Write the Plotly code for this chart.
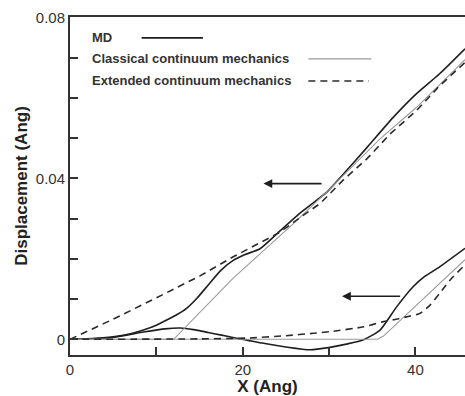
import plotly.graph_objects as go

# ---- data (X in Angstrom, displacement in Angstrom) ----
md_up_x = [0, 3, 5, 7, 8.5, 10, 11.2, 12.5, 13.5, 14.7, 16.2, 17.5, 18.9, 20.2, 22, 24, 26.6, 29.7, 31.3, 34.4, 37.4, 40.1, 42.8, 45.74]
md_up_y = [0, 0.0002, 0.0006, 0.0014, 0.0023, 0.0035, 0.0048, 0.0063, 0.0077, 0.0102, 0.0140, 0.0172, 0.0196, 0.0210, 0.0225, 0.0263, 0.0313, 0.0365, 0.0402, 0.0477, 0.0551, 0.0610, 0.0660, 0.0722]

cl_up_x = [0, 12, 18.9, 22.8, 25.9, 30, 35.9, 40.1, 45.74]
cl_up_y = [0, 0, 0.0152, 0.0229, 0.0288, 0.0372, 0.0498, 0.0576, 0.0695]

ex_up_x = [0, 5, 10, 15, 18.9, 22, 24.3, 27, 29, 31.6, 34.4, 37.1, 40.1, 42.8, 45.74]
ex_up_y = [0, 0.0050, 0.0103, 0.0157, 0.0205, 0.0241, 0.0266, 0.0308, 0.0338, 0.0395, 0.0449, 0.0511, 0.0568, 0.0630, 0.0688]

md_lo_x = [0, 5, 8.5, 11, 12.8, 14.3, 16, 17.4, 19, 20.5, 22.4, 25, 27.8, 30.1, 32, 34, 35.9, 37.8, 39.7, 41, 42.8, 45.74]
md_lo_y = [0, 0.0005, 0.0018, 0.0026, 0.0028, 0.0024, 0.0017, 0.0011, 0.0004, -0.0002, -0.0010, -0.0019, -0.0026, -0.0020, -0.0012, -0.0001, 0.0023, 0.0080, 0.0130, 0.0155, 0.0180, 0.0226]

cl_lo_x = [0, 35.6, 36.3, 45.74]
cl_lo_y = [0, 0, 0.0008, 0.0198]

ex_lo_x = [0, 15, 20.5, 25, 28.2, 30.1, 34.0, 36.3, 37.8, 39.4, 40.5, 41.7, 42.8, 44.0, 45.5, 45.74]
ex_lo_y = [0, 0.0001, 0.0003, 0.0009, 0.0015, 0.0019, 0.0031, 0.0044, 0.0050, 0.0058, 0.0064, 0.0085, 0.0114, 0.0147, 0.0180, 0.0185]

legend_names = ["MD", "Classical continuum mechanics", "Extended continuum mechanics"]
x_ticks = [0, 20, 40]
x_tick_text = ["0", "20", "40"]
y_ticks = [0, 0.04, 0.08]
y_tick_text = ["0", "0.04", "0.08"]

FONT = "Arial, Liberation Sans, Helvetica, sans-serif"
MD_STYLE = dict(color="#1e1e1e", width=1.6)
CL_STYLE = dict(color="#9a9a9a", width=1.1)
EX_STYLE = dict(color="#2a2a2a", width=1.6, dash="7px,5px")

fig = go.Figure()
for xs, ys, st, sh in [
    (md_up_x, md_up_y, MD_STYLE, "spline"),
    (md_lo_x, md_lo_y, MD_STYLE, "spline"),
    (cl_up_x, cl_up_y, CL_STYLE, "linear"),
    (cl_lo_x, cl_lo_y, CL_STYLE, "linear"),
    (ex_up_x, ex_up_y, EX_STYLE, "linear"),
    (ex_lo_x, ex_lo_y, EX_STYLE, "spline"),
]:
    fig.add_trace(go.Scatter(x=xs, y=ys, mode="lines", line=dict(shape=sh, smoothing=0.6, **st),
                             showlegend=False, hoverinfo="skip", cliponaxis=True))

# manual legend (text left, line sample right)
leg_rows = [(0.0749, 8.3, 15.4, MD_STYLE), (0.0697, 27.6, 34.9, CL_STYLE), (0.0642, 27.6, 34.6, EX_STYLE)]
for name, (yy, x0, x1, st) in zip(legend_names, leg_rows):
    fig.add_annotation(x=2.3, y=yy, xref="x", yref="y", text="<b>%s</b>" % name, showarrow=False,
                       xanchor="left", yanchor="middle", font=dict(family=FONT, size=13, color="#333"))
    fig.add_shape(type="line", x0=x0, x1=x1, y0=yy, y1=yy, xref="x", yref="y",
                  line=dict(color=st["color"], width=st["width"], dash=st.get("dash", "solid")))

# arrows
for tail_x, head_x, yy in [(29.3, 22.4, 0.0387), (38.4, 31.5, 0.0107)]:
    fig.add_annotation(x=head_x, y=yy, ax=tail_x, ay=yy, xref="x", yref="y", axref="x", ayref="y",
                       text="", showarrow=True, arrowhead=2, arrowsize=1.1, arrowwidth=1.6, arrowcolor="#1e1e1e")

fig.update_layout(
    width=465, height=396,
    margin=dict(l=70, r=0, t=17, b=41),
    paper_bgcolor="white", plot_bgcolor="white",
    font=dict(family=FONT, color="#333"),
)
fig.update_xaxes(range=[0, 45.74], showgrid=False, zeroline=False, showline=True, linewidth=2, linecolor="#333",
                 mirror=True, ticks="inside", ticklen=8, tickwidth=1.5, tickcolor="#333",
                 tickvals=x_ticks, ticktext=x_tick_text, tickfont=dict(size=15, family=FONT, color="#333"),
                 minor=dict(tickmode="linear", tick0=0, dtick=10, ticks="inside", ticklen=8, tickwidth=1.5, tickcolor="#333"),
                 title=dict(text="<b>X (Ang)</b>", font=dict(size=17, family=FONT, color="#222"), standoff=4),
                 automargin=False)
fig.update_yaxes(range=[-0.0039, 0.0801], showgrid=False, zeroline=False, showline=True, linewidth=2, linecolor="#333",
                 mirror=False, ticks="inside", ticklen=8, tickwidth=1.5, tickcolor="#333",
                 tickvals=y_ticks, ticktext=y_tick_text, tickfont=dict(size=15, family=FONT, color="#333"),
                 minor=dict(tickmode="linear", tick0=0, dtick=0.01, ticks="inside", ticklen=8, tickwidth=1.5, tickcolor="#333"),
                 title=dict(text="<b>Displacement (Ang)</b>", font=dict(size=17, family=FONT, color="#222"), standoff=4),
                 automargin=False)

fig.write_html("out.html", config={"displayModeBar": False},
               post_script="document.body.style.margin='0';document.body.style.overflow='hidden';")
